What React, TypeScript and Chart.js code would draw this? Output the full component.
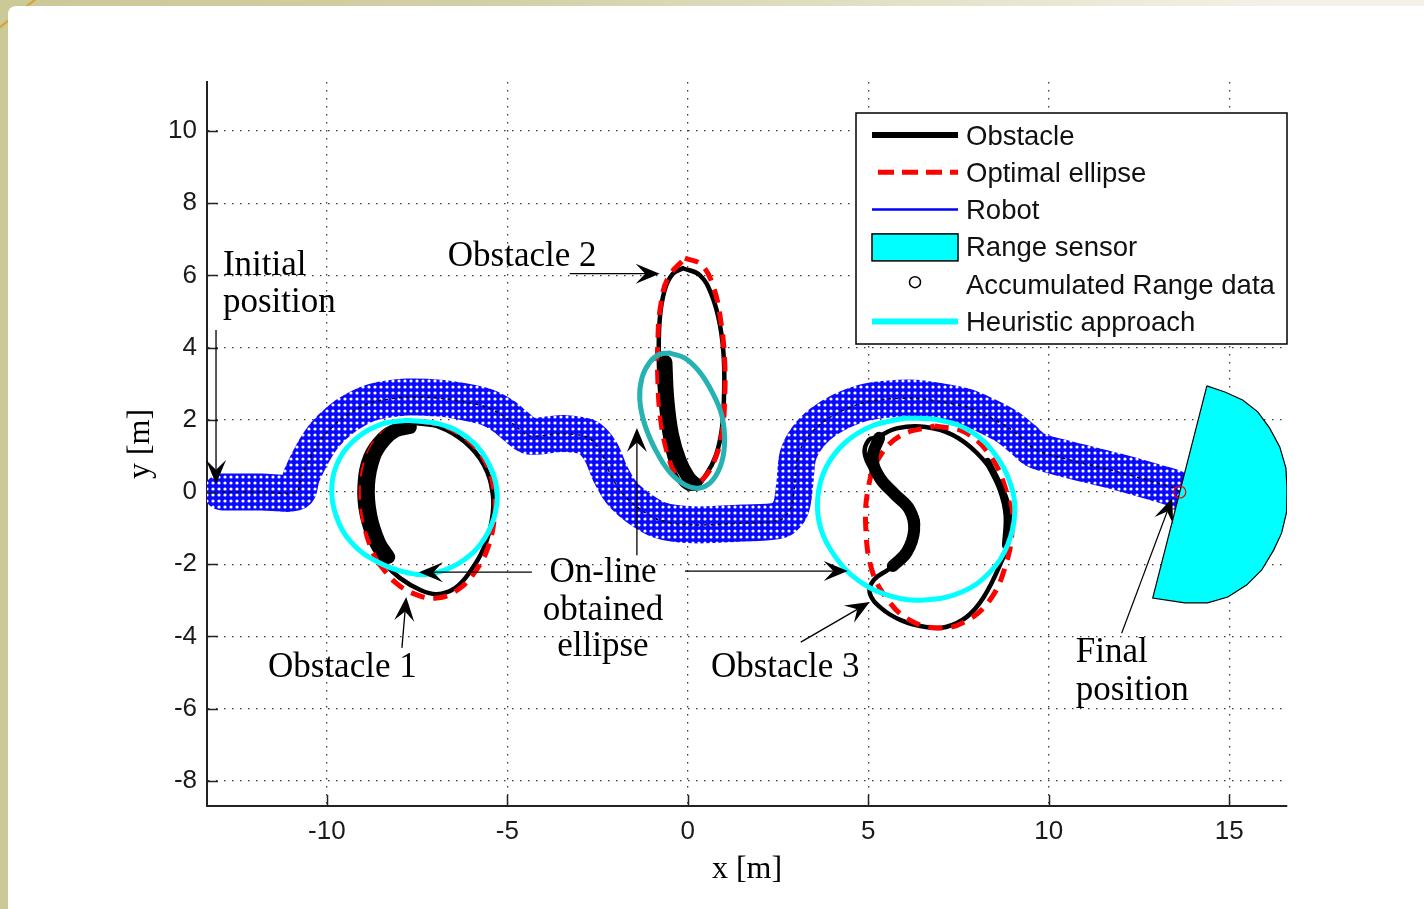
import React, { useEffect, useRef } from 'react';
import { Chart, registerables } from 'chart.js';

Chart.register(...registerables);

// ---------- axis limits ----------
const X_MIN = -13.32;
const X_MAX = 16.6;
const Y_MIN = -8.7;
const Y_MAX = 11.36;
const X_STEP = 5;
const Y_STEP = 2;

// ---------- data (metres) ----------
const ROBOT_PATH: number[][] = [
  [-12.9, 0], [-11.8, 0], [-10.85, 0.0], [-10.7, 0.45], [-10.39, 1.08], [-10.06, 1.58],
  [-9.64, 1.99], [-9.22, 2.27], [-8.73, 2.49], [-7.78, 2.63], [-6.87, 2.6], [-6.2, 2.5],
  [-5.57, 2.35], [-5.1, 2.1], [-4.74, 1.8], [-4.38, 1.55], [-3.46, 1.62], [-2.75, 1.5],
  [-2.4, 1.1], [-2.16, 0.53], [-1.85, 0.0], [-1.41, -0.41], [-0.78, -0.78], [0.14, -0.91],
  [1.52, -0.86], [2.55, -0.78], [2.85, -0.45], [2.96, 0.19], [3.05, 1.0], [3.32, 1.52],
  [3.71, 1.91], [4.21, 2.22], [4.85, 2.47], [5.5, 2.57], [6.29, 2.6], [7.0, 2.5],
  [7.73, 2.35], [8.3, 2.1], [8.86, 1.8], [9.3, 1.45], [9.64, 1.16], [10.58, 0.89],
  [12.02, 0.53], [13.0, 0.25], [13.46, 0.11], [13.63, 0.0],
];

const FINAL_POSITION: number[] = [13.63, 0.0];

const OBSTACLE_1: number[][] = [
  [-7.56, 1.91], [-6.87, 1.8], [-6.18, 1.39], [-5.65, 0.75], [-5.4, -0.08], [-5.43, -0.78],
  [-5.65, -1.55], [-6.04, -2.22], [-6.45, -2.66], [-6.95, -2.83], [-7.42, -2.71], [-7.98, -2.38],
  [-8.39, -1.99], [-8.75, -1.47], [-9.03, -0.64], [-9.09, 0.19], [-8.92, 1.02], [-8.53, 1.58],
  [-8.12, 1.83],
];
const OBSTACLE_1_DENSE: number[][] = [
  [-7.7, 1.8], [-8.1, 1.7], [-8.42, 1.43], [-8.7, 0.98], [-8.86, 0.19], [-8.8, -0.64],
  [-8.56, -1.4], [-8.3, -1.8],
];
const OPTIMAL_1: number[][] = [
  [-8.59, -1.94], [-8.12, -2.49], [-7.56, -2.83], [-6.95, -2.94], [-6.37, -2.71], [-5.9, -2.22],
  [-5.54, -1.55], [-5.35, -0.64], [-5.37, 0.06], [-5.6, 0.83], [-6.09, 1.44], [-6.87, 1.86],
  [-7.7, 1.91], [-8.39, 1.66], [-8.86, 1.02], [-9.05, 0.06], [-8.96, -0.91], [-8.78, -1.55],
];
const HEURISTIC_1: number[][] = [
  [-7.78, 1.99], [-6.87, 1.88], [-6.09, 1.5], [-5.54, 0.83], [-5.29, 0.06], [-5.37, -0.72],
  [-5.76, -1.47], [-6.37, -1.99], [-7.15, -2.27], [-7.84, -2.22], [-8.59, -1.94], [-9.31, -1.41],
  [-9.75, -0.64], [-9.86, 0.19], [-9.64, 0.94], [-9.14, 1.52], [-8.48, 1.88],
];

const OBSTACLE_2: number[][] = [
  [-0.14, 6.2], [0.33, 6.01], [0.66, 5.46], [0.89, 4.63], [1.0, 3.66], [1.0, 2.55],
  [0.94, 1.72], [0.78, 1.02], [0.5, 0.47], [0.17, 0.11], [-0.14, 0.19], [-0.39, 0.61],
  [-0.61, 1.44], [-0.75, 2.55], [-0.8, 3.52], [-0.78, 4.76], [-0.64, 5.6], [-0.42, 6.04],
];
const OBSTACLE_2_DENSE: number[][] = [
  [-0.62, 3.6], [-0.57, 2.6], [-0.44, 1.6], [-0.22, 0.85], [0.02, 0.4], [0.2, 0.22],
];
const OPTIMAL_2: number[][] = [
  [-0.08, 6.48], [0.39, 6.29], [0.72, 5.65], [0.91, 4.76], [1.02, 3.66], [1.02, 2.55],
  [0.94, 1.58], [0.72, 0.83], [0.39, 0.33], [0.06, 0.19], [-0.28, 0.39], [-0.55, 1.02],
  [-0.75, 1.99], [-0.83, 3.1], [-0.83, 4.21], [-0.75, 5.18], [-0.55, 5.93],
];
const HEURISTIC_2: number[][] = [
  [-0.5, 3.85], [-0.08, 3.71], [0.33, 3.32], [0.69, 2.74], [0.94, 2.13], [1.02, 1.44],
  [0.94, 0.83], [0.69, 0.33], [0.33, 0.11], [-0.06, 0.19], [-0.5, 0.55], [-0.89, 1.16],
  [-1.19, 1.86], [-1.33, 2.55], [-1.27, 3.16], [-1.05, 3.6], [-0.78, 3.82],
];

const OBSTACLE_3: number[][] = [
  [5.24, 1.52], [5.82, 1.77], [6.59, 1.8], [7.34, 1.58], [8.01, 1.08], [8.59, 0.33],
  [8.92, -0.5], [8.92, -1.25], [8.67, -1.97], [8.2, -2.91], [7.73, -3.46], [7.15, -3.74],
  [6.59, -3.74], [5.9, -3.55], [5.35, -3.21], [5.04, -2.8], [5.15, -2.44], [5.54, -2.16],
  [6.01, -1.8], [6.34, -1.14], [6.34, -0.69], [6.01, -0.3], [5.54, 0.11], [5.1, 0.61],
  [4.9, 1.08], [5.01, 1.44],
];
const OBSTACLE_3_DENSE: number[][] = [
  [5.3, 1.5], [5.12, 0.94], [5.32, 0.39], [5.73, -0.06], [6.15, -0.5], [6.27, -1.05],
  [6.07, -1.66], [5.68, -2.05],
];
const OBSTACLE_3_DENSE_RIGHT: number[][] = [
  [8.3, 0.85], [8.68, 0.06], [8.84, -0.64], [8.8, -1.47],
];
const OPTIMAL_3: number[][] = [
  [6.84, 1.83], [7.67, 1.66], [8.37, 1.02], [8.81, 0.06], [8.98, -0.97], [8.81, -2.02],
  [8.37, -2.99], [7.67, -3.6], [6.93, -3.77], [6.15, -3.55], [5.54, -2.99], [5.1, -2.16],
  [4.93, -0.97], [4.99, 0.06], [5.26, 0.89], [5.87, 1.55],
];
const HEURISTIC_3: number[][] = [
  [6.01, 2.05], [6.98, 1.99], [7.87, 1.66], [8.53, 1.02], [8.92, 0.28], [9.06, -0.55],
  [8.86, -1.47], [8.37, -2.22], [7.59, -2.77], [6.57, -2.99], [5.6, -2.88], [4.71, -2.44],
  [4.07, -1.77], [3.68, -1.0], [3.6, -0.17], [3.82, 0.66], [4.35, 1.36], [5.1, 1.83],
];

const RANGE_SENSOR: number[][] = [
  [14.38, 2.94], [14.88, 2.77], [15.37, 2.55], [15.79, 2.22], [16.12, 1.77], [16.4, 1.25],
  [16.57, 0.66], [16.6, 0.11], [16.59, -0.55], [16.45, -1.14], [16.23, -1.61], [15.9, -2.16],
  [15.48, -2.58], [14.96, -2.91], [14.4, -3.07], [13.77, -3.07], [12.88, -2.94], [14.38, 2.94],
];

const LEGEND_LABELS: string[] = [
  'Obstacle', 'Optimal ellipse', 'Robot', 'Range sensor', 'Accumulated Range data', 'Heuristic approach',
];

// annotation texts (anchor in metres)
const NOTE_TEXTS = [
  { text: 'Initial', x: -12.88, y: 6.01, align: 'left' },
  { text: 'position', x: -12.88, y: 4.99, align: 'left' },
  { text: 'Obstacle 2', x: -6.65, y: 6.25, align: 'left' },
  { text: 'Obstacle 1', x: -11.63, y: -5.12, align: 'left' },
  { text: 'On-line', x: -2.35, y: -2.49, align: 'center' },
  { text: 'obtained', x: -2.35, y: -3.55, align: 'center' },
  { text: 'ellipse', x: -2.35, y: -4.54, align: 'center' },
  { text: 'Obstacle 3', x: 0.64, y: -5.12, align: 'left' },
  { text: 'Final', x: 10.75, y: -4.71, align: 'left' },
  { text: 'position', x: 10.75, y: -5.76, align: 'left' },
];
// arrows: [x from, y from, x to (tip), y to (tip)]
const NOTE_ARROWS: number[][] = [
  [-13.07, 4.49, -13.07, 0.22],
  [-3.27, 6.05, -0.78, 6.05],
  [-7.92, -4.32, -7.8, -2.91],
  [-4.32, -2.22, -7.45, -2.22],
  [-0.08, -2.19, 4.43, -2.19],
  [-1.41, -1.75, -1.41, 1.77],
  [3.13, -4.16, 5.04, -3.05],
  [12.02, -3.91, 13.42, -0.17],
];

const toXY = (pts: number[][]) => pts.map(([x, y]) => ({ x, y }));
const closed = (pts: number[][]) => toXY([...pts, pts[0]]);

const SERIF = '"Liberation Serif", "Times New Roman", serif';
const SANS = '"Liberation Sans", Arial, Helvetica, sans-serif';

function drawArrow(ctx: CanvasRenderingContext2D, x1: number, y1: number, x2: number, y2: number) {
  const dx = x2 - x1;
  const dy = y2 - y1;
  const len = Math.hypot(dx, dy) || 1;
  const ux = dx / len;
  const uy = dy / len;
  const nx = -uy;
  const ny = ux;
  const L = 24;
  const W = 10;
  const notch = 0.6 * L;
  ctx.beginPath();
  ctx.moveTo(x1, y1);
  ctx.lineTo(x2 - ux * notch, y2 - uy * notch);
  ctx.stroke();
  ctx.beginPath();
  ctx.moveTo(x2, y2);
  ctx.lineTo(x2 - ux * L + nx * W, y2 - uy * L + ny * W);
  ctx.lineTo(x2 - ux * notch, y2 - uy * notch);
  ctx.lineTo(x2 - ux * L - nx * W, y2 - uy * L - ny * W);
  ctx.closePath();
  ctx.fill();
}

const overlayPlugin = {
  id: 'overlay',
  afterDatasetsDraw(chart: any) {
    const { ctx, chartArea: a, scales } = chart;
    const xs = scales.x;
    const ys = scales.y;
    const px = (v: number) => xs.getPixelForValue(v);
    const py = (v: number) => ys.getPixelForValue(v);
    ctx.save();
    // inward tick marks
    ctx.strokeStyle = '#222';
    ctx.lineWidth = 1.5;
    ctx.beginPath();
    for (const t of ys.ticks) {
      const y = Math.round(py(t.value)) + 0.5;
      ctx.moveTo(a.left, y);
      ctx.lineTo(a.left + 11, y);
    }
    for (const t of xs.ticks) {
      const x = Math.round(px(t.value)) + 0.5;
      ctx.moveTo(x, a.bottom);
      ctx.lineTo(x, a.bottom - 11);
    }
    ctx.stroke();
    // arrows
    ctx.strokeStyle = '#000';
    ctx.fillStyle = '#000';
    ctx.lineWidth = 1.3;
    for (const [x1, y1, x2, y2] of NOTE_ARROWS) drawArrow(ctx, px(x1), py(y1), px(x2), py(y2));
    // texts
    ctx.font = `35px ${SERIF}`;
    ctx.textBaseline = 'alphabetic';
    for (const n of NOTE_TEXTS) {
      ctx.textAlign = n.align as CanvasTextAlign;
      ctx.fillText(n.text, px(n.x), py(n.y));
    }
    ctx.restore();
  },
  afterDraw(chart: any) {
    const { ctx, chartArea: a } = chart;
    const W = 431;
    const H = 231;
    const L = a.right - W;
    const T = a.top + 31;
    ctx.save();
    ctx.fillStyle = '#fff';
    ctx.fillRect(L, T, W, H);
    ctx.strokeStyle = '#000';
    ctx.lineWidth = 1.5;
    ctx.strokeRect(L, T, W, H);
    const rowY = (i: number) => T + 22 + i * 37.3;
    const s1 = L + 16;
    const s2 = L + 102;
    // Obstacle
    ctx.lineWidth = 6;
    ctx.strokeStyle = '#000';
    ctx.beginPath(); ctx.moveTo(s1, rowY(0)); ctx.lineTo(s2, rowY(0)); ctx.stroke();
    // Optimal ellipse
    ctx.lineWidth = 5;
    ctx.strokeStyle = '#ff0000';
    ctx.setLineDash([16, 8]);
    ctx.beginPath(); ctx.moveTo(s1 + 6, rowY(1)); ctx.lineTo(s2, rowY(1)); ctx.stroke();
    ctx.setLineDash([]);
    // Robot
    ctx.lineWidth = 2.5;
    ctx.strokeStyle = '#0000ff';
    ctx.beginPath(); ctx.moveTo(s1, rowY(2)); ctx.lineTo(s2, rowY(2)); ctx.stroke();
    // Range sensor
    ctx.fillStyle = '#00ffff';
    ctx.fillRect(s1, rowY(3) - 13, s2 - s1, 27);
    ctx.lineWidth = 1.5;
    ctx.strokeStyle = '#000';
    ctx.strokeRect(s1, rowY(3) - 13, s2 - s1, 27);
    // Accumulated range data
    ctx.beginPath();
    ctx.arc((s1 + s2) / 2, rowY(4) - 2, 5.5, 0, Math.PI * 2);
    ctx.stroke();
    // Heuristic approach
    ctx.lineWidth = 6;
    ctx.strokeStyle = '#00ffff';
    ctx.beginPath(); ctx.moveTo(s1, rowY(5)); ctx.lineTo(s2, rowY(5)); ctx.stroke();
    // labels
    ctx.fillStyle = '#111';
    ctx.font = `27.5px ${SANS}`;
    ctx.textAlign = 'left';
    ctx.textBaseline = 'middle';
    LEGEND_LABELS.forEach((lab, i) => ctx.fillText(lab, L + 110, rowY(i) + 2));
    ctx.restore();
  },
};

export default function App() {
  const ref = useRef<HTMLCanvasElement>(null);

  useEffect(() => {
    const canvas = ref.current;
    if (!canvas) return;
    const c2d = canvas.getContext('2d') as CanvasRenderingContext2D;
    const tile = document.createElement('canvas');
    tile.width = 6;
    tile.height = 6;
    const t = tile.getContext('2d') as CanvasRenderingContext2D;
    t.fillStyle = '#0a0aff';
    t.fillRect(0, 0, 6, 6);
    t.fillStyle = '#ffffff';
    t.beginPath();
    t.arc(3, 3, 1.6, 0, Math.PI * 2);
    t.fill();
    const bandPattern = c2d.createPattern(tile, 'repeat') as CanvasPattern;

    const curve = (label: string, pts: any[], color: any, width: number, order: number, extra: any = {}) => ({
      label,
      data: pts,
      borderColor: color,
      borderWidth: width,
      backgroundColor: 'transparent',
      pointRadius: 0,
      tension: 0.4,
      fill: false,
      order,
      borderCapStyle: 'round',
      borderJoinStyle: 'round',
      ...extra,
    });

    const chart = new Chart(canvas, {
      type: 'line',
      data: {
        datasets: [
          curve('Robot', toXY(ROBOT_PATH), bandPattern, 37, 20, { tension: 0.3 }),
          curve('Robot centre', toXY(ROBOT_PATH), '#000', 1.5, 19, { tension: 0.3, borderDash: [3, 4], borderCapStyle: 'butt' }),
          curve('Obstacle 1', closed(OBSTACLE_1), '#000', 4.5, 18),
          curve('Obstacle 2', closed(OBSTACLE_2), '#000', 4.5, 18),
          curve('Obstacle 3', closed(OBSTACLE_3), '#000', 4.5, 18),
          curve('Optimal ellipse 1', closed(OPTIMAL_1), '#ff0000', 5, 17, { borderDash: [14, 9], borderCapStyle: 'butt' }),
          curve('Optimal ellipse 2', closed(OPTIMAL_2), '#ff0000', 5, 17, { borderDash: [14, 9], borderCapStyle: 'butt' }),
          curve('Optimal ellipse 3', closed(OPTIMAL_3), '#ff0000', 5, 17, { borderDash: [14, 9], borderCapStyle: 'butt' }),
          curve('Accumulated Range data 1', toXY(OBSTACLE_1_DENSE), '#000', 14, 16),
          curve('Accumulated Range data 2', toXY(OBSTACLE_2_DENSE), '#000', 14, 16),
          curve('Accumulated Range data 3', toXY(OBSTACLE_3_DENSE), '#000', 12, 16),
          curve('Accumulated Range data 3b', toXY(OBSTACLE_3_DENSE_RIGHT), '#000', 7, 16),
          curve('Heuristic approach 1', closed(HEURISTIC_1), '#00ffff', 5, 15),
          curve('Heuristic approach 2', closed(HEURISTIC_2), '#26b2b2', 5, 15),
          curve('Heuristic approach 3', closed(HEURISTIC_3), '#00ffff', 5, 15),
          {
            label: 'Range sensor',
            data: toXY(RANGE_SENSOR),
            borderColor: '#000',
            borderWidth: 1.2,
            backgroundColor: '#00ffff',
            fill: 'shape',
            pointRadius: 0,
            tension: 0,
            order: 14,
          },
          {
            label: 'Final position',
            data: [{ x: FINAL_POSITION[0], y: FINAL_POSITION[1] }],
            showLine: false,
            pointRadius: 6,
            pointBorderWidth: 1.2,
            pointBorderColor: '#ff0000',
            pointBackgroundColor: 'rgba(0,0,0,0)',
            order: 13,
          },
        ] as any,
      },
      options: {
        animation: false,
        responsive: false,
        events: [],
        layout: { padding: { left: 0, top: 82, right: 137, bottom: 0 } },
        plugins: {
          legend: { display: false },
          tooltip: { enabled: false },
        },
        scales: {
          x: {
            type: 'linear',
            min: X_MIN,
            max: X_MAX,
            afterFit: (s: any) => { s.height = 103; },
            ticks: {
              stepSize: X_STEP,
              includeBounds: false,
              padding: 10,
              color: '#1a1a1a',
              font: { family: SANS, size: 26 },
            },
            grid: { color: '#3a3a3a', lineWidth: 1.3, drawTicks: false },
            border: { display: true, color: '#222', width: 2, dash: [1.5, 6.5] },
            title: {
              display: true,
              text: 'x [m]',
              color: '#000',
              font: { family: SERIF, size: 32 },
              padding: { top: 0, bottom: 20 },
            },
          },
          y: {
            type: 'linear',
            min: Y_MIN,
            max: Y_MAX,
            afterFit: (s: any) => { s.width = 207; },
            ticks: {
              stepSize: Y_STEP,
              includeBounds: false,
              padding: 10,
              color: '#1a1a1a',
              font: { family: SANS, size: 26 },
            },
            grid: { color: '#3a3a3a', lineWidth: 1.3, drawTicks: false },
            border: { display: true, color: '#222', width: 2, dash: [1.5, 6.5] },
            title: {
              display: true,
              text: 'y [m]',
              color: '#000',
              font: { family: SERIF, size: 32 },
              padding: { top: 121, bottom: 0 },
            },
          },
        },
      } as any,
      plugins: [overlayPlugin],
    });
    return () => chart.destroy();
  }, []);

  return (
    <div style={{ position: 'fixed', left: 0, top: 0, width: 1424, height: 909, background: '#cbc996', overflow: 'hidden' }}>
      <div style={{ position: 'absolute', left: 0, top: 0, width: 1424, height: 8, background: 'linear-gradient(to right, #cbc996 0%, #d2d0a6 35%, #f3f1e6 90%)' }} />
      <div style={{ position: 'absolute', left: -8, top: 12, width: 52, height: 1.5, background: '#d9a232', transform: 'rotate(-38deg)' }} />
      <div style={{ position: 'absolute', left: 8, top: 6, right: 0, bottom: 0, background: '#ffffff', borderTopLeftRadius: 8 }} />
      <canvas ref={ref} width={1424} height={909} style={{ position: 'absolute', left: 0, top: 0 }} />
    </div>
  );
}
